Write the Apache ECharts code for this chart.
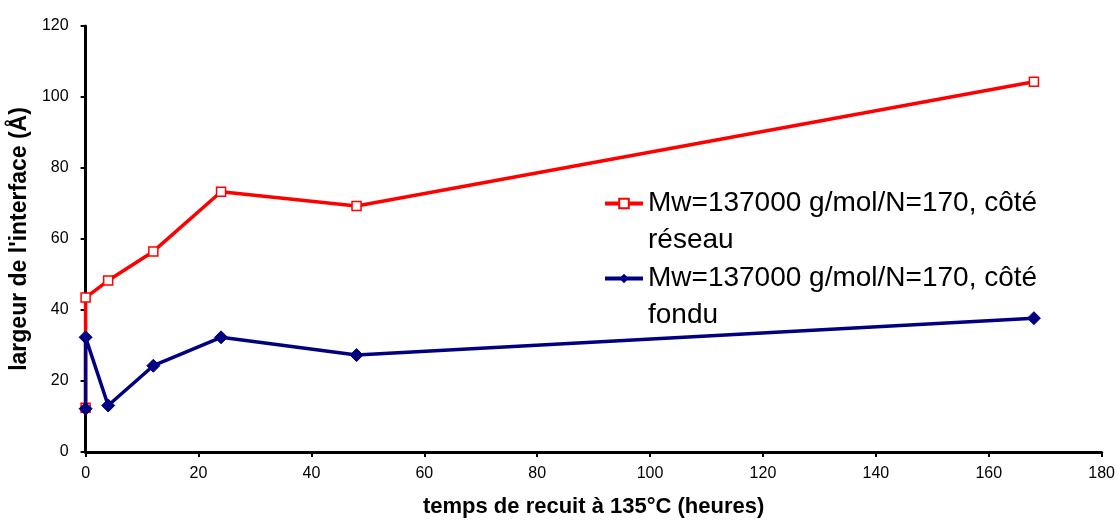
<!DOCTYPE html>
<html>
<head>
<meta charset="utf-8">
<script src="https://cdn.jsdelivr.net/npm/echarts@6/dist/echarts.min.js"></script>
<style>
html, body { margin: 0; padding: 0; background: #fff; }
#chart { width: 1118px; height: 523px; }
</style>
</head>
<body>
<div id="chart"></div>
<script>
// temps de recuit (heures)
var reseauX = [0, 0, 4, 12, 24, 48, 168];
var reseauY = [12.5, 43.5, 48.3, 56.5, 73.3, 69.3, 104.3];
var fonduX = [0, 0, 4, 12, 24, 48, 168];
var fonduY = [12.2, 32.3, 13.1, 24.3, 32.3, 27.3, 37.7];
var names = ['Mw=137000 g/mol/N=170, côté réseau', 'Mw=137000 g/mol/N=170, côté fondu'];

function pairs(xs, ys) {
    return xs.map(function (x, i) { return [x, ys[i]]; });
}

// legende : une par serie, l'icone alignee sur la 1re ligne
function legendFor(name, top) {
    return {
        orient: 'vertical',
        left: 598,
        top: top,
        itemWidth: 38,
        itemHeight: 12,
        data: [name],
        // ligne vide devant => l'icone tombe au milieu, soit sur la 1re ligne
        formatter: function (n) {
            return '\n' + n.replace(', côté ', ', côté\n');
        },
        lineStyle: { width: 4 },
        textStyle: {
            fontFamily: 'Liberation Sans, Arial',
            fontSize: 28,
            color: '#000',
            lineHeight: 37
        }
    };
}

var myChart = echarts.init(document.getElementById('chart'));
myChart.setOption({
    animation: false,
    backgroundColor: '#fff',
    grid: {
        left: 84,
        right: 15,
        top: 26,
        bottom: 68
    },
    legend: [legendFor(names[0], 143), legendFor(names[1], 218)],
    xAxis: {
        type: 'value',
        min: 0,
        max: 180,
        interval: 20,
        name: 'temps de recuit à 135°C (heures)',
        nameLocation: 'middle',
        nameGap: 44,
        nameTextStyle: {
            fontFamily: 'Liberation Sans, Arial',
            fontWeight: 'bold',
            fontSize: 22,
            color: '#000'
        },
        axisLine: { lineStyle: { color: '#000', width: 3 } },
        axisTick: { show: true, length: 5, lineStyle: { color: '#000', width: 2 } },
        axisLabel: {
            fontFamily: 'Liberation Sans, Arial',
            fontSize: 16,
            color: '#000',
            margin: 14
        },
        splitLine: { show: false }
    },
    yAxis: {
        type: 'value',
        min: 0,
        max: 120,
        interval: 20,
        name: "largeur de l'interface (Å)",
        nameLocation: 'middle',
        nameGap: 48,
        nameTextStyle: {
            fontFamily: 'Liberation Sans, Arial',
            fontWeight: 'bold',
            fontSize: 23,
            color: '#000'
        },
        axisLine: { show: true, lineStyle: { color: '#000', width: 3 } },
        axisTick: { show: true, length: 5, lineStyle: { color: '#000', width: 2 } },
        axisLabel: {
            fontFamily: 'Liberation Sans, Arial',
            fontSize: 16,
            color: '#000',
            margin: 17
        },
        splitLine: { show: false }
    },
    series: [{
        name: names[0],
        type: 'line',
        data: pairs(reseauX, reseauY),
        symbol: 'rect',
        symbolSize: 9,
        lineStyle: { color: '#ff0000', width: 3.5 },
        itemStyle: { color: '#fff', borderColor: '#ff0000', borderWidth: 1.5 },
        z: 2
    }, {
        name: names[1],
        type: 'line',
        data: pairs(fonduX, fonduY),
        symbol: 'diamond',
        symbolSize: 13,
        lineStyle: { color: '#000080', width: 3.5 },
        itemStyle: { color: '#000080', borderColor: '#000080' },
        z: 3
    }]
});
</script>
</body>
</html>
